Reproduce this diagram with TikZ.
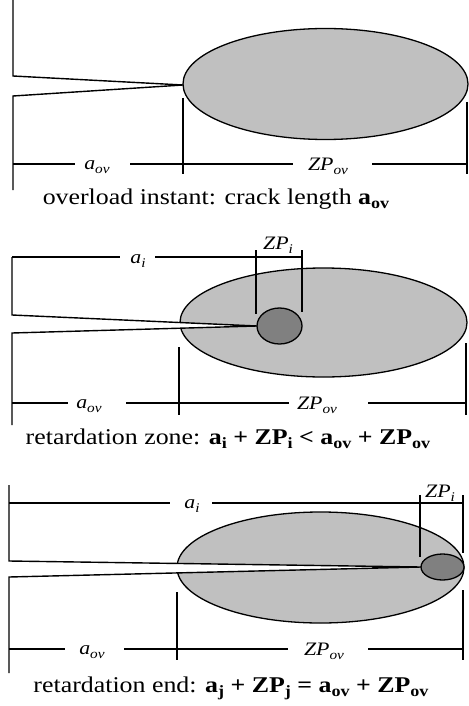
\documentclass[tikz,border=0pt]{standalone}
\usepackage{fontspec}
\setmainfont{Liberation Serif}
\definecolor{zonegray}{RGB}{192,192,192}
\definecolor{coregray}{RGB}{128,128,128}
\newcommand\lo[1]{\raisebox{-0.22em}{\scalebox{0.7}{#1}}}
\newcommand\wide[1]{\scalebox{1.15}[1]{#1}}
\tikzset{
  edge/.style={line width=1.4pt, line join=miter},
  zone/.style={fill=zonegray, draw=black, line width=1.3pt},
  core/.style={fill=coregray, draw=black, line width=1.3pt},
  dimlabel/.style={font=\fontsize{19}{22}\selectfont\itshape, inner sep=0pt, anchor=base},
  caption/.style={font=\fontsize{22.5}{27}\selectfont, inner sep=0pt, anchor=base},
}
\begin{document}
\begin{tikzpicture}[x=1pt,y=-1pt]
\useasboundingbox (0,0) rectangle (468,706);

% ---------- Panel 1: overload instant ----------
\draw[zone] (325.5,84) ellipse [x radius=142.5, y radius=55.5];
\draw[edge] (13,0) -- (13,76) -- (183,85) -- (13,96) -- (13,190);
\draw[edge] (183,98) -- (183,174);
\draw[edge] (467,102) -- (467,174);
\draw[edge] (13,164) -- (75,164) (130,164) -- (293,164) (372,164) -- (467,164);
\node[dimlabel] (aov1) at (97,169) {\wide{a\lo{ov}}};
\node[dimlabel] (zpov1) at (328,170) {\wide{ZP\lo{ov}}};
\node[caption] (cap1) at (216,204) {\wide{overload instant: crack length \textbf{a\lo{ov}}}};

% ---------- Panel 2: retardation zone ----------
\draw[zone] (323.5,322.5) ellipse [x radius=143.5, y radius=54.5];
\fill[white] (12,315) -- (257,326) -- (12,333) -- cycle;
\draw[core] (279.5,326) ellipse [x radius=22.5, y radius=18];
\draw[edge] (12,257) -- (12,315) -- (257,326) -- (12,333) -- (12,425);
\draw[edge] (256,250) -- (256,314);
\draw[edge] (302,250) -- (302,312);
\draw[edge] (12,257) -- (120,257) (155,257) -- (302,257);
\draw[edge] (179,347) -- (179,415);
\draw[edge] (466,343) -- (466,415);
\draw[edge] (12,403) -- (68,403) (126,403) -- (289,403) (368,403) -- (466,403);
\node[dimlabel] (ai2) at (138,263) {\wide{a\lo{i}}};
\node[dimlabel] (zpi2) at (278,249) {\wide{ZP\lo{i}}};
\node[dimlabel] (aov2) at (89,408) {\wide{a\lo{ov}}};
\node[dimlabel] (zpov2) at (317,409) {\wide{ZP\lo{ov}}};
\node[caption] (cap2) at (228,444) {\wide{retardation zone: \textbf{a\lo{i} + ZP\lo{i} < a\lo{ov} + ZP\lo{ov}}}};

% ---------- Panel 3: retardation end ----------
\draw[zone] (320.5,567.5) ellipse [x radius=143.5, y radius=55.5];
\fill[white] (9,561) -- (421,567) -- (9,577) -- cycle;
\draw[core] (442.5,567) ellipse [x radius=21.5, y radius=13];
\draw[edge] (9,485) -- (9,561) -- (421,567) -- (9,577) -- (9,673);
\draw[edge] (420,495) -- (420,557);
\draw[edge] (463,495) -- (463,553);
\draw[edge] (9,503) -- (170,503) (212,503) -- (463,503);
\draw[edge] (177,592) -- (177,660);
\draw[edge] (463,590) -- (463,660);
\draw[edge] (9,649) -- (65,649) (124,649) -- (288,649) (368,649) -- (463,649);
\node[dimlabel] (ai3) at (192,508) {\wide{a\lo{i}}};
\node[dimlabel] (zpi3) at (440,497) {\wide{ZP\lo{i}}};
\node[dimlabel] (aov3) at (92,654) {\wide{a\lo{ov}}};
\node[dimlabel] (zpov3) at (324,655) {\wide{ZP\lo{ov}}};
\node[caption] (cap3) at (231,692) {\wide{retardation end: \textbf{a\lo{j} + ZP\lo{j} = a\lo{ov} + ZP\lo{ov}}}};
\end{tikzpicture}
\end{document}
